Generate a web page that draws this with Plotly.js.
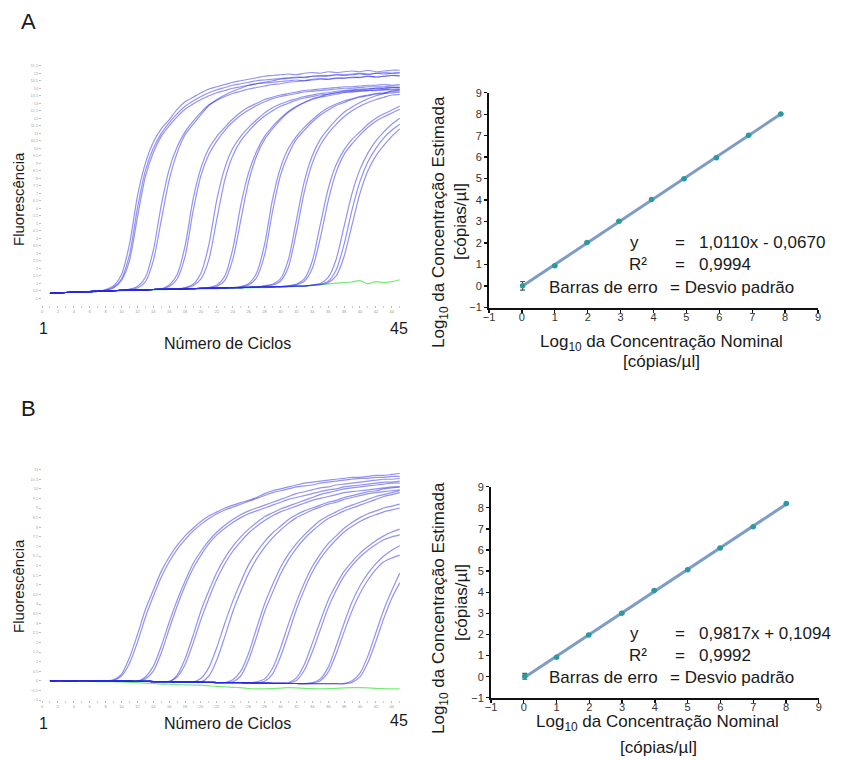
<!DOCTYPE html>
<html><head><meta charset="utf-8">
<script src="https://cdn.plot.ly/plotly-3.0.1.min.js"></script>
<style>html,body{margin:0;padding:0;background:#fff}</style>
</head><body><div id="chart" style="width:845px;height:760px"></div>
<script>
// ---------- data ----------
const cycles = [1,2,3,4,5,6,7,8,9,10,11,12,13,14,15,16,17,18,19,20,21,22,23,24,25,26,27,28,29,30,31,32,33,34,35,36,37,38,39,40,41,42,43,44,45];
const xTickVals = [0,2,4,6,8,10,12,14,16,18,20,22,24,26,28,30,32,34,36,38,40,42,44];

// Panel A amplification curves
const topBaseline = [0.35,0.37,0.40,0.42,0.44,0.46,0.48,0.50,0.52,0.54,0.55,0.57,0.58,0.60,0.61,0.62,0.63,0.64,0.66,0.67,0.68,0.70,0.71,0.72,0.73,0.75,0.76,0.77,0.78,0.79,0.80,0.82,0.83,0.84,0.85,0.86,0.87,0.88,0.89,0.90,0.91,0.92,0.93,0.94,0.95];
const topGreen = [0.35,0.37,0.39,0.41,0.43,0.45,0.47,0.49,0.51,0.52,0.54,0.55,0.57,0.58,0.59,0.60,0.61,0.62,0.63,0.64,0.65,0.66,0.67,0.68,0.70,0.71,0.72,0.73,0.74,0.76,0.78,0.81,0.84,0.87,0.92,0.97,1.02,1.06,1.10,1.19,0.98,1.12,1.06,1.12,1.25];
const topStart = [8,8,8,11,11,15,15,18,18,21,21,25,25,28,28,31,31,34,34,34];
const topRise = [
 [0.6,0.85,1.6,3.6,6.8,9.0,10.4,11.3,11.9,12.6,13.1,13.4,13.7,13.95,14.1,14.25,14.4,14.5,14.6,14.7,14.8,14.85,14.9,14.95,14.9,15.0,15.05,15.0,15.1,15.05,15.1,15.15,15.1,15.2,15.1,15.15,15.2,15.2],
 [0.55,0.75,1.3,2.9,6.0,8.5,10.0,11.0,11.7,12.3,12.8,13.15,13.45,13.7,13.9,14.05,14.2,14.3,14.4,14.5,14.55,14.6,14.65,14.7,14.75,14.7,14.8,14.85,14.8,14.9,14.85,14.9,14.95,14.9,15.0,14.95,15.0,15.0],
 [0.55,0.7,1.2,2.5,5.4,8.1,9.7,10.8,11.5,12.1,12.6,12.95,13.25,13.5,13.7,13.85,14.0,14.1,14.2,14.3,14.35,14.4,14.45,14.5,14.55,14.5,14.6,14.65,14.6,14.7,14.65,14.75,14.7,14.8,14.75,14.8,14.85,14.8],
 [0.6,0.7,1.1,2.5,5.2,7.9,9.7,10.9,11.6,12.25,12.85,13.25,13.55,13.8,14.0,14.2,14.3,14.4,14.5,14.6,14.65,14.7,14.75,14.8,14.8,14.85,14.9,14.9,14.95,15.0,14.95,15.0,15.05,15.0,15.05],
 [0.62,0.8,1.4,3.2,6.2,8.6,10.1,11.1,11.8,12.4,12.9,13.2,13.45,13.65,13.8,13.95,14.05,14.15,14.25,14.3,14.4,14.45,14.5,14.55,14.6,14.6,14.65,14.7,14.7,14.75,14.8,14.75,14.8,14.85,14.85],
 [0.65,0.9,1.6,3.5,6.6,8.7,10.0,10.8,11.4,11.95,12.4,12.75,13.0,13.25,13.4,13.55,13.65,13.75,13.85,13.9,13.95,14.0,14.05,14.1,14.1,14.15,14.2,14.2,14.25,14.2,14.25],
 [0.63,0.8,1.3,2.8,5.8,8.2,9.6,10.5,11.2,11.75,12.2,12.55,12.85,13.1,13.3,13.45,13.55,13.65,13.75,13.8,13.85,13.9,13.95,14.0,14.0,14.05,14.1,14.1,14.1,14.15,14.15],
 [0.72,0.95,1.7,3.6,6.6,8.7,10.0,10.8,11.4,11.9,12.35,12.7,12.95,13.15,13.3,13.45,13.55,13.65,13.7,13.8,13.85,13.9,13.95,13.95,14.0,14.0,14.05,14.05],
 [0.7,0.85,1.3,2.6,5.3,7.9,9.5,10.5,11.15,11.7,12.15,12.5,12.8,13.0,13.2,13.35,13.45,13.55,13.6,13.7,13.75,13.8,13.85,13.85,13.9,13.9,13.95,13.95],
 [0.72,0.8,1.2,2.6,5.2,7.8,9.5,10.6,11.3,11.9,12.4,12.75,13.05,13.3,13.45,13.6,13.7,13.8,13.85,13.9,13.95,14.0,14.0,14.05,14.05],
 [0.74,0.9,1.5,3.3,6.2,8.4,9.8,10.8,11.45,12.0,12.45,12.8,13.05,13.25,13.4,13.5,13.6,13.7,13.75,13.8,13.85,13.85,13.9,13.9,13.95],
 [0.8,1.0,1.7,3.6,6.6,8.7,10.0,10.8,11.4,11.9,12.35,12.7,12.95,13.15,13.3,13.45,13.55,13.65,13.7,13.8,13.85],
 [0.78,0.9,1.4,2.9,5.8,8.2,9.6,10.6,11.2,11.75,12.2,12.55,12.85,13.05,13.25,13.4,13.5,13.6,13.65,13.7,13.75],
 [0.85,0.95,1.3,2.6,5.2,7.8,9.5,10.6,11.3,11.9,12.4,12.75,13.05,13.3,13.5,13.65,13.8,13.9],
 [0.83,0.9,1.15,2.1,4.4,7.1,9.0,10.2,11.0,11.6,12.1,12.5,12.8,13.05,13.25,13.4,13.55,13.6],
 [0.85,0.95,1.3,2.5,4.9,7.3,8.9,9.9,10.6,11.1,11.6,12.0,12.3,12.55,12.8],
 [0.85,0.92,1.15,2.0,4.0,6.5,8.4,9.6,10.3,10.9,11.4,11.8,12.1,12.35,12.6],
 [0.9,1.0,1.4,2.6,4.8,7.0,8.6,9.7,10.5,11.1,11.6,12.0],
 [0.9,0.95,1.15,1.9,3.6,5.9,7.8,9.1,10.0,10.7,11.2,11.6],
 [0.88,0.92,1.05,1.5,2.8,4.9,7.0,8.5,9.5,10.2,10.8,11.3]
];

// Panel B amplification curves
const botBaseline = [0,0.01,0,0,0.01,0,-0.01,0,-0.01,-0.02,-0.02,-0.03,-0.03,-0.04,-0.05,-0.05,-0.06,-0.06,-0.07,-0.07,-0.08,-0.09,-0.09,-0.1,-0.1,-0.11,-0.12,-0.12,-0.13,-0.13,-0.14,-0.14,-0.15,-0.15,-0.15,-0.15,-0.15,-0.16,-0.16,-0.16,-0.16,-0.17,-0.17,-0.17,-0.17];
const botGreen = [0,0,-0.01,-0.02,-0.02,-0.03,-0.04,-0.04,-0.05,-0.06,-0.08,-0.1,-0.12,-0.14,-0.17,-0.18,-0.2,-0.21,-0.22,-0.23,-0.26,-0.29,-0.31,-0.34,-0.36,-0.4,-0.42,-0.42,-0.41,-0.38,-0.36,-0.37,-0.39,-0.41,-0.42,-0.41,-0.39,-0.37,-0.36,-0.36,-0.37,-0.39,-0.41,-0.42,-0.42];
const botStart = [9,9,13,13,16,16,20,20,24,24,27,27,31,31,34,34,38,38];
const botRise = [
 [0.05,0.35,1.2,2.4,3.7,4.72,5.7,6.45,7.05,7.55,7.95,8.3,8.6,8.8,9.0,9.15,9.28,9.4,9.55,9.75,9.9,10.0,10.1,10.2,10.3,10.35,10.4,10.45,10.5,10.55,10.6,10.6,10.65,10.7,10.7,10.75,10.8],
 [0.03,0.25,0.9,2.0,3.3,4.4,5.4,6.2,6.85,7.35,7.8,8.15,8.45,8.7,8.9,9.05,9.2,9.35,9.5,9.65,9.8,9.9,10.0,10.1,10.15,10.2,10.3,10.35,10.4,10.45,10.5,10.55,10.55,10.6,10.6,10.65,10.65],
 [0.2,0.75,1.8,3.05,4.2,5.2,6.1,6.75,7.3,7.75,8.1,8.4,8.65,8.85,9.0,9.15,9.3,9.45,9.6,9.75,9.85,9.95,10.05,10.1,10.2,10.25,10.3,10.35,10.4,10.45,10.5,10.5,10.55],
 [0.1,0.5,1.45,2.7,3.9,4.95,5.85,6.55,7.15,7.6,7.95,8.25,8.5,8.7,8.85,9.0,9.15,9.3,9.45,9.55,9.65,9.75,9.85,9.95,10.0,10.1,10.15,10.2,10.25,10.3,10.35,10.35,10.4],
 [-0.05,0.3,1.15,2.35,3.65,4.7,5.65,6.4,7.0,7.5,7.9,8.25,8.55,8.75,8.95,9.1,9.25,9.4,9.55,9.7,9.8,9.9,10.0,10.05,10.1,10.15,10.2,10.25,10.3,10.3],
 [-0.03,0.2,0.85,1.95,3.2,4.3,5.3,6.1,6.75,7.25,7.7,8.05,8.35,8.6,8.8,8.95,9.1,9.25,9.4,9.5,9.6,9.7,9.8,9.85,9.9,9.95,10.0,10.05,10.1,10.1],
 [0.13,0.7,1.75,3.0,4.15,5.15,6.05,6.7,7.25,7.7,8.05,8.4,8.65,8.85,9.0,9.15,9.3,9.4,9.55,9.65,9.75,9.85,9.9,10.0,10.05,10.1],
 [-0.07,0.25,1.1,2.3,3.6,4.65,5.6,6.35,6.95,7.45,7.85,8.2,8.5,8.7,8.9,9.05,9.2,9.3,9.45,9.55,9.65,9.75,9.8,9.85,9.9,9.95],
 [-0.05,0.25,1.1,2.3,3.6,4.6,5.55,6.3,6.9,7.4,7.8,8.15,8.45,8.65,8.85,9.0,9.15,9.3,9.45,9.6,9.7,9.8],
 [0.05,0.5,1.45,2.75,4.0,5.0,5.9,6.6,7.15,7.6,8.0,8.35,8.6,8.8,9.0,9.15,9.3,9.45,9.6,9.7,9.8,9.9],
 [-0.05,0.1,0.65,1.7,2.95,4.1,5.1,5.95,6.6,7.15,7.55,7.95,8.25,8.5,8.7,8.85,9.0,9.1,9.2],
 [-0.1,-0.02,0.35,1.25,2.45,3.7,4.75,5.65,6.35,6.9,7.35,7.75,8.05,8.3,8.5,8.65,8.8,8.9,9.0],
 [-0.1,0.15,0.85,1.95,3.1,4.2,5.0,5.7,6.2,6.65,7.0,7.3,7.55,7.75,7.9],
 [-0.12,0.02,0.55,1.5,2.65,3.8,4.7,5.45,6.0,6.45,6.8,7.1,7.35,7.5,7.6],
 [-0.1,0.1,0.7,1.8,3.0,4.1,4.95,5.6,6.1,6.5,6.8,7.05],
 [-0.12,0.0,0.45,1.4,2.55,3.65,4.55,5.25,5.8,6.2,6.4,6.55],
 [-0.15,0.0,0.4,1.3,2.5,3.7,4.7,5.6],
 [-0.15,-0.08,0.2,0.95,2.05,3.25,4.3,5.1]
];

// Standard curves (log10 nominal vs log10 estimated)
const nominalA = [0.02,1.0,1.98,2.95,3.94,4.93,5.91,6.89,7.87];
const estimatedA = [0.01,0.94,2.03,3.02,4.03,4.99,5.97,7.02,8.01];
const sdA = [0.2,0.02,0.02,0.02,0.02,0.02,0.02,0.02,0.02];
const nominalB = [0.03,1.0,1.98,2.99,3.98,5.0,5.99,7.0,8.01];
const estimatedB = [0.02,0.92,1.98,3.0,4.08,5.07,6.1,7.1,8.2];
const sdB = [0.14,0.02,0.02,0.02,0.02,0.02,0.02,0.02,0.02];
const eqA = ["y", "=", "1,0110x - 0,0670", "R²", "=", "0,9994", "Barras de erro", "= Desvio padrão"];
const eqB = ["y", "=", "0,9817x + 0,1094", "R²", "=", "0,9992", "Barras de erro", "= Desvio padrão"];

// ---------- build ----------
const W = 845, H = 760;
const FONT = 'Liberation Sans, Arial, sans-serif';
const BLUE = 'rgba(40,40,225,0.5)';
const GREEN = 'rgba(110,235,110,0.95)';
const traces = [];

function curve(base, start, rise) { return base.slice(0, start - 1).concat(rise); }
function lineTrace(y, color, xa, ya) {
  return {x: cycles.slice(0, y.length), y: y, xaxis: xa, yaxis: ya, mode: 'lines',
    line: {color: color, width: 1.2, shape: 'spline', smoothing: 0.7}, hoverinfo: 'skip'};
}
traces.push(lineTrace(topGreen, GREEN, 'x', 'y'));
topRise.forEach((r, i) => traces.push(lineTrace(curve(topBaseline, topStart[i], r), BLUE, 'x', 'y')));
traces.push(lineTrace(botGreen, GREEN, 'x3', 'y3'));
botRise.forEach((r, i) => traces.push(lineTrace(curve(botBaseline, botStart[i], r), BLUE, 'x3', 'y3')));

function fit(xs, ys) {
  const n = xs.length, mx = xs.reduce((a, b) => a + b) / n, my = ys.reduce((a, b) => a + b) / n;
  let sxy = 0, sxx = 0;
  for (let i = 0; i < n; i++) { sxy += (xs[i] - mx) * (ys[i] - my); sxx += (xs[i] - mx) ** 2; }
  const a = sxy / sxx; return {a: a, b: my - a * mx};
}
function stdCurve(xs, ys, sd, xa, ya) {
  const f = fit(xs, ys);
  const lx = [Math.min(...xs), Math.max(...xs)];
  traces.push({x: lx, y: lx.map(v => f.a * v + f.b), xaxis: xa, yaxis: ya, mode: 'lines',
    line: {color: '#7d9cc8', width: 3}, hoverinfo: 'skip'});
  traces.push({x: xs, y: ys, xaxis: xa, yaxis: ya, mode: 'markers',
    marker: {color: '#2a9aa2', size: 5.5},
    error_y: {type: 'data', array: sd, color: '#555', thickness: 1.2, width: 2.5}});
}
stdCurve(nominalA, estimatedA, sdA, 'x2', 'y2');
stdCurve(nominalB, estimatedB, sdB, 'x4', 'y4');

const px = v => v / W, py = v => 1 - v / H;
function ann(text, x, y, size, opt) {
  return Object.assign({text: text, x: px(x), y: py(y), xref: 'paper', yref: 'paper', showarrow: false,
    xanchor: 'center', yanchor: 'middle', font: {family: FONT, size: size, color: '#1a1a1a'}}, opt || {});
}
const annotations = [
  ann('A', 28, 22, 22), ann('B', 28, 408, 22),
  ann('Fluorescência', 18, 199, 15, {textangle: -90}),
  ann('Fluorescência', 18, 586, 15, {textangle: -90}),
  ann('Número de Ciclos', 227, 343, 16), ann('Número de Ciclos', 227, 723, 16),
  ann('1', 43, 328, 16), ann('45', 399, 328, 16),
  ann('1', 43, 723, 16), ann('45', 399, 720, 16),
  ann('Log<sub>10</sub> da Concentração Nominal', 661, 343, 17),
  ann('[cópias/µl]', 661, 361, 17),
  ann('Log<sub>10</sub> da Concentração Estimada', 440, 222, 17, {textangle: -90}),
  ann('[cópias/µl]', 460, 222, 17, {textangle: -90}),
  ann('Log<sub>10</sub> da Concentração Nominal', 657, 723, 17),
  ann('[cópias/µl]', 658, 747, 17),
  ann('Log<sub>10</sub> da Concentração Estimada', 440, 608, 17, {textangle: -90}),
  ann('[cópias/µl]', 461, 602, 17, {textangle: -90})
];
function eqAnn(eq, yy) {
  annotations.push(ann(eq[0], 634, yy[0], 17));
  annotations.push(ann(eq[1], 680, yy[0], 17));
  annotations.push(ann(eq[2], 697, yy[0], 17, {xanchor: 'left'}));
  annotations.push(ann(eq[3], 638, yy[1], 17));
  annotations.push(ann(eq[4], 680, yy[1], 17));
  annotations.push(ann(eq[5], 697, yy[1], 17, {xanchor: 'left'}));
  annotations.push(ann(eq[6], 547, yy[2], 17, {xanchor: 'left'}));
  annotations.push(ann(eq[7], 668, yy[2], 17, {xanchor: 'left'}));
}
eqAnn(eqA, [242, 264, 287]);
eqAnn(eqB, [633, 655, 677]);

const ampX = (dom, anchor) => ({domain: dom, anchor: anchor, range: [0, 45.5], tickvals: xTickVals,
  tickfont: {family: FONT, size: 4, color: '#999'}, ticks: 'outside', ticklen: 2, tickcolor: '#bbb',
  minor: {dtick: 1, tick0: 0, ticks: 'outside', ticklen: 1.5, tickcolor: '#ccc'},
  showgrid: false, zeroline: false, showline: false});
const ampY = (dom, anchor, rng) => ({domain: dom, anchor: anchor, range: rng, dtick: 0.5, tick0: 0,
  tickfont: {family: FONT, size: 4, color: '#aaa'}, ticks: 'outside', ticklen: 2, tickcolor: '#bbb',
  showgrid: false, zeroline: false, showline: false});
const stdAx = (dom, anchor, isX) => ({domain: dom, anchor: anchor, range: [-1, 9], dtick: 1, tick0: 0,
  showline: true, linecolor: '#111', linewidth: 2, ticks: 'outside', ticklen: 3, tickwidth: 1.3,
  tickcolor: '#111', tickfont: {family: FONT, size: 11, color: '#333'},
  ticklabelposition: 'outside', ticklabelstandoff: isX ? -5 : 0,
  showgrid: false, zeroline: false});

const layout = {
  width: W, height: H, margin: {l: 0, r: 0, t: 0, b: 0},
  paper_bgcolor: '#fff', plot_bgcolor: 'rgba(0,0,0,0)', showlegend: false,
  font: {family: FONT},
  xaxis: ampX([42 / W, 403.7 / W], 'y'),
  yaxis: ampY([1 - 305.25 / H, 1 - 65.75 / H], 'x', [-0.45, 15.5]),
  xaxis3: ampX([42 / W, 403.7 / W], 'y3'),
  yaxis3: ampY([1 - 700 / H, 1 - 465.8 / H], 'x3', [-1, 11.2]),
  xaxis2: stdAx([489 / W, 818 / W], 'y2', true),
  yaxis2: stdAx([1 - 307.5 / H, 1 - 92.7 / H], 'x2', false),
  xaxis4: stdAx([491 / W, 818.75 / W], 'y4', true),
  yaxis4: stdAx([1 - 697.8 / H, 1 - 486.7 / H], 'x4', false),
  annotations: annotations
};
Plotly.newPlot('chart', traces, layout, {displayModeBar: false, staticPlot: true});
</script></body></html>
